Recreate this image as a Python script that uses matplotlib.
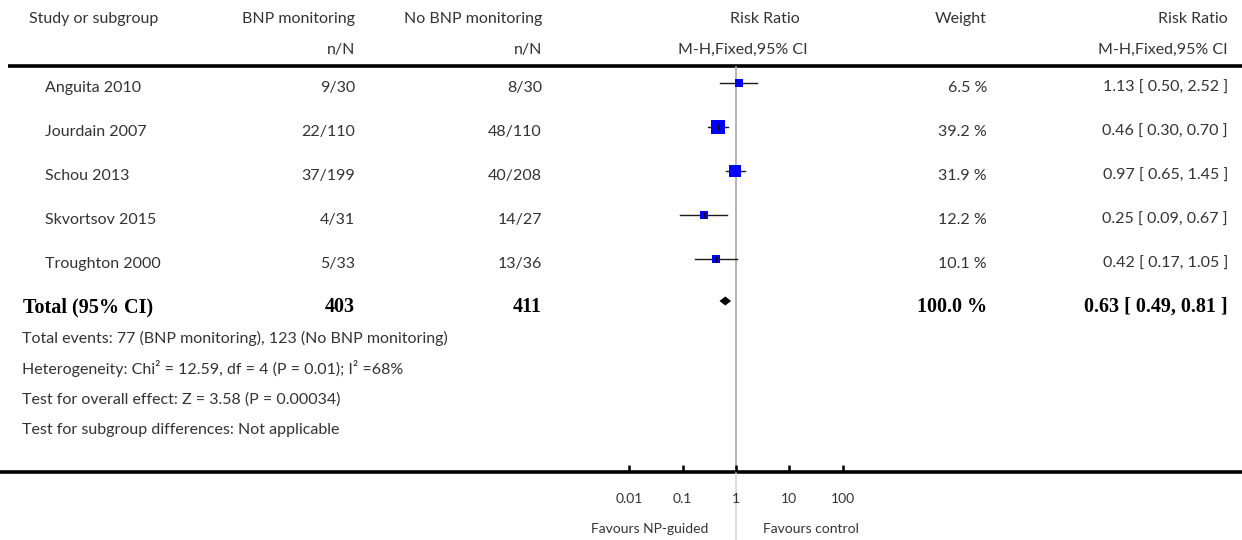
import numpy as np
import matplotlib
matplotlib.use("Agg")
import matplotlib.pyplot as plt

# Studies and counts
studies = ['Anguita 2010', 'Jourdain 2007', 'Schou 2013', 'Skvortsov 2015', 'Troughton 2000']
bnp_events = [9, 22, 37, 4, 5]
bnp_total = [30, 110, 199, 31, 33]
ctl_events = [8, 48, 40, 14, 13]
ctl_total = [30, 110, 208, 27, 36]
weights = [6.5, 39.2, 31.9, 12.2, 10.1]
rr = [1.13, 0.46, 0.97, 0.25, 0.42]
rr_lo = [0.50, 0.30, 0.65, 0.09, 0.17]
rr_hi = [2.52, 0.70, 1.45, 0.67, 1.05]

# Pooled result
pooled_rr, pooled_lo, pooled_hi = 0.63, 0.49, 0.81
pooled_weight = 100.0
n_bnp, n_ctl = 403, 411

footer_lines = [
    'Total events: 77 (BNP monitoring), 123 (No BNP monitoring)',
    'Heterogeneity: Chi² = 12.59, df = 4 (P = 0.01); I² =68%',
    'Test for overall effect: Z = 3.58 (P = 0.00034)',
    'Test for subgroup differences: Not applicable',
]

axis_ticks = [0.01, 0.1, 1, 10, 100]
axis_labels = ['0.01', '0.1', '1', '10', '100']

W, H = 1242, 540
TXT = '#333333'
SANS = dict(family=['Lato', 'DejaVu Sans'], fontsize=11.5, color=TXT)
SMALL = dict(SANS, fontsize=10)
BOLD = dict(family=['Liberation Serif', 'DejaVu Serif'], weight='bold', fontsize=14.5, color='black')

fig = plt.figure(figsize=(W / 100, H / 100), dpi=100)

# Text layer in pixel coordinates
ax = fig.add_axes([0, 0, 1, 1])
ax.set_xlim(0, W)
ax.set_ylim(H, 0)
ax.axis('off')

# Forest panel: log scale, 1 at x=736, ~53 px per decade
px_dec = 53.3
centre = 736
span = 2.5
left = centre - span * px_dec
right = centre + span * px_dec
fx = fig.add_axes([left / W, 0, (right - left) / W, 1], zorder=2)
fx.set_xscale('log')
fx.set_xlim(10 ** -span, 10 ** span)
fx.set_ylim(H, 0)
fx.axis('off')
fx.patch.set_alpha(0)

# Headers
ax.text(29, 19, 'Study or subgroup', ha='left', va='center', **SANS)
ax.text(355, 19, 'BNP monitoring', ha='right', va='center', **SANS)
ax.text(542, 19, 'No BNP monitoring', ha='right', va='center', **SANS)
ax.text(800, 19, 'Risk Ratio', ha='right', va='center', **SANS)
ax.text(987, 19, 'Weight', ha='right', va='center', **SANS)
ax.text(1228, 19, 'Risk Ratio', ha='right', va='center', **SANS)
ax.text(355, 50, 'n/N', ha='right', va='center', **SANS)
ax.text(542, 50, 'n/N', ha='right', va='center', **SANS)
ax.text(808, 50, 'M-H,Fixed,95% CI', ha='right', va='center', **SANS)
ax.text(1228, 50, 'M-H,Fixed,95% CI', ha='right', va='center', **SANS)

# Rules
ax.plot([8, W], [66, 66], color='black', lw=2.6, solid_capstyle='butt')
ax.plot([0, W], [472, 472], color='black', lw=2.6, solid_capstyle='butt')

# Line of no effect
fx.plot([1, 1], [67, 471], color='#a8a8a8', lw=1.2)
fx.plot([1, 1], [473, H], color='#d6d6d6', lw=1.2)

row0, step = 83, 44
for i, name in enumerate(studies):
    y = row0 + i * step
    ty = y + 5
    ax.text(45, ty, name, ha='left', va='center', **SANS)
    ax.text(355, ty, f'{bnp_events[i]}/{bnp_total[i]}', ha='right', va='center', **SANS)
    ax.text(542, ty, f'{ctl_events[i]}/{ctl_total[i]}', ha='right', va='center', **SANS)
    ax.text(987, ty, f'{weights[i]:.1f} %', ha='right', va='center', **SANS)
    ax.text(1228, ty, f'{rr[i]:.2f} [ {rr_lo[i]:.2f}, {rr_hi[i]:.2f} ]',
            ha='right', va='center', **SANS)
    # CI whisker, weighted square and centre tick
    fx.plot([rr_lo[i], rr_hi[i]], [y, y], color='#1a1a1a', lw=1.0)
    side = (6 + 0.2 * weights[i]) * 0.72
    fx.plot(rr[i], y, marker='s', ms=side, color='#0000ff', mec='#0000ff', mew=0)
    fx.plot(rr[i], y, marker='|', ms=4, color='black', mew=0.8)

# Pooled row
yt = row0 + 5 * step - 2
ax.text(23, yt + 6, 'Total (95% CI)', ha='left', va='center', **BOLD)
ax.text(355, yt + 6, f'{n_bnp}', ha='right', va='center', **BOLD)
ax.text(542, yt + 6, f'{n_ctl}', ha='right', va='center', **BOLD)
ax.text(987, yt + 6, f'{pooled_weight:.1f} %', ha='right', va='center', **BOLD)
ax.text(1228, yt + 6, f'{pooled_rr:.2f} [ {pooled_lo:.2f}, {pooled_hi:.2f} ]',
        ha='right', va='center', **BOLD)
fx.fill([pooled_lo, pooled_rr, pooled_hi, pooled_rr], [yt, yt - 4.5, yt, yt + 4.5],
        color='black', lw=0)

for j, line in enumerate(footer_lines):
    ax.text(22, 338 + j * 30.7, line, ha='left', va='center', **SANS)

# Scale ticks and labels
fx.vlines(axis_ticks, 465, 472, color='black', lw=1.8)
for v, lab in zip(axis_ticks, axis_labels):
    fx.text(v, 499, lab, ha='center', va='center', **SMALL)

fx.text(10 ** (-0.52), 529, 'Favours NP-guided', ha='right', va='center', **SMALL)
fx.text(10 ** 0.51, 529, 'Favours control', ha='left', va='center', **SMALL)

fig.savefig('out.png', dpi=100)
